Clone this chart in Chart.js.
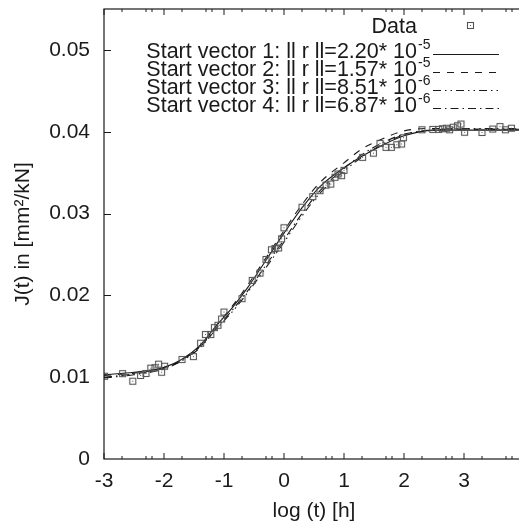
<!DOCTYPE html>
<html>
<head>
<meta charset="utf-8">
<script src="https://cdn.jsdelivr.net/npm/chart.js@4/dist/chart.umd.min.js"></script>
<style>
  html, body { margin: 0; padding: 0; background: #fff; overflow: hidden; }
  #wrap { width: 529px; height: 525px; }
</style>
</head>
<body>
<div id="wrap"><canvas id="creep" width="529" height="525"></canvas></div>
<script>
const dataX = [-2.99, -2.69, -2.52, -2.39, -2.30, -2.22, -2.15, -2.09, -2.04, -1.99,
  -1.70, -1.51, -1.39, -1.31, -1.22, -1.16, -1.10, -1.04, -1.00, -0.70,
  -0.53, -0.40, -0.30, -0.21, -0.15, -0.09, -0.04, 0.00, 0.30, 0.48,
  0.60, 0.70, 0.78, 0.85, 0.90, 0.96, 1.00, 1.31, 1.49, 1.60,
  1.70, 1.79, 1.88, 1.96, 1.99, 2.30, 2.48, 2.58, 2.64, 2.71,
  2.76, 2.82, 2.89, 2.95, 3.01, 3.30, 3.48, 3.60, 3.69, 3.79];
const dataY = [0.01012, 0.01043, 0.00951, 0.01021, 0.01045, 0.01110, 0.01116, 0.01159, 0.01061, 0.01134,
  0.01216, 0.01252, 0.01415, 0.01521, 0.01521, 0.01606, 0.01634, 0.01711, 0.01796, 0.01960,
  0.02183, 0.02272, 0.02439, 0.02557, 0.02573, 0.02579, 0.02691, 0.02826, 0.03077, 0.03207,
  0.03280, 0.03348, 0.03360, 0.03443, 0.03484, 0.03463, 0.03528, 0.03687, 0.03738, 0.03857,
  0.03809, 0.03809, 0.03841, 0.03850, 0.03927, 0.04024, 0.04028, 0.04028, 0.04037, 0.04043,
  0.04024, 0.04055, 0.04073, 0.04094, 0.03994, 0.03991, 0.04033, 0.04063, 0.04024, 0.04043];

// fitted curves
const fitX = [-3, -2.5, -2, -1.7, -1.4, -1.15, -0.85, -0.6, -0.3, 0, 0.3, 0.6, 1, 1.3, 1.6, 2, 2.5, 3, 3.5, 4];
const fit1 = [0.0103, 0.0106, 0.0112, 0.0122, 0.0139, 0.0161, 0.0186, 0.0210, 0.0243, 0.0276,
  0.0307, 0.0333, 0.0356, 0.0370, 0.0382, 0.0395, 0.0402, 0.0402, 0.0402, 0.0402];
const fit2 = [0.0102, 0.0105, 0.0111, 0.0121, 0.0138, 0.0161, 0.0188, 0.0213, 0.0246, 0.0279,
  0.0311, 0.0338, 0.0362, 0.0379, 0.0390, 0.0401, 0.0404, 0.0403, 0.0403, 0.0403];
const fit3 = [0.0099, 0.0103, 0.0110, 0.0120, 0.0136, 0.0157, 0.0181, 0.0204, 0.0234, 0.0265,
  0.0297, 0.0325, 0.0352, 0.0369, 0.0383, 0.0396, 0.0402, 0.0404, 0.0404, 0.0404];
const fit4 = [0.0100, 0.0104, 0.0111, 0.0121, 0.0137, 0.0158, 0.0183, 0.0206, 0.0237, 0.0268,
  0.0300, 0.0328, 0.0355, 0.0372, 0.0385, 0.0397, 0.0402, 0.0403, 0.0403, 0.0403];

const legendNames = ['Start vector 1: ll r ll=2.20* 10', 'Start vector 2: ll r ll=1.57* 10',
  'Start vector 3: ll r ll=8.51* 10', 'Start vector 4: ll r ll=6.87* 10'];
const legendExp = ['-5', '-5', '-6', '-6'];
const dashes = [[], [7, 7], [8, 4, 1.5, 4, 1.5, 4], [8, 4, 1.5, 4]];

const FONT = '"Liberation Sans", Arial, Helvetica, sans-serif';
const INK = '#1a1a1a';

// small square marker with a dot in the middle
const marker = document.createElement('canvas');
marker.width = 9; marker.height = 9;
(() => {
  const m = marker.getContext('2d');
  m.strokeStyle = '#555';
  m.lineWidth = 1.1;
  m.strokeRect(1.5, 1.5, 6, 6);
  m.fillStyle = '#555';
  m.fillRect(4, 4, 1, 1);
})();

const pts = (xs, ys) => xs.map((x, i) => ({ x: x, y: ys[i] }));

const lineSet = (label, ys, dash) => ({
  label: label,
  data: pts(fitX, ys),
  borderColor: INK,
  borderWidth: 1.1,
  borderDash: dash,
  pointRadius: 0,
  showLine: true,
  fill: false,
  cubicInterpolationMode: 'monotone'
});

// frame with inward ticks, gnuplot style
const framePlugin = {
  id: 'frame',
  afterDraw(chart) {
    const { ctx, chartArea: a, scales } = chart;
    ctx.save();
    ctx.strokeStyle = INK;
    ctx.lineWidth = 1.2;
    ctx.strokeRect(a.left, a.top, a.right - a.left, a.bottom - a.top);
    ctx.lineWidth = 1;
    ctx.beginPath();
    for (let k = -3; k <= 4; k++) {
      const px = scales.x.getPixelForValue(k);
      ctx.moveTo(px, a.bottom); ctx.lineTo(px, a.bottom - 6);
      ctx.moveTo(px, a.top); ctx.lineTo(px, a.top + 6);
      [0.3, 0.7, 0.8].forEach(f => {
        if (k + f > 4) return;
        const mx = scales.x.getPixelForValue(k + f);
        ctx.moveTo(mx, a.bottom); ctx.lineTo(mx, a.bottom - 3);
        ctx.moveTo(mx, a.top); ctx.lineTo(mx, a.top + 3);
      });
    }
    for (let v = 0.01; v < 0.055; v += 0.01) {
      const py = Math.round(scales.y.getPixelForValue(v)) + 0.5;
      ctx.moveTo(a.left, py); ctx.lineTo(a.left + 7, py);
    }
    ctx.stroke();
    ctx.restore();
  }
};

// legend inside the top right corner, text right aligned, sample on the right
const keyPlugin = {
  id: 'key',
  afterDraw(chart) {
    const ctx = chart.ctx;
    const textRight = 417, s0 = 433, s1 = 499;
    ctx.save();
    ctx.fillStyle = INK;
    ctx.textBaseline = 'middle';
    ctx.font = '21.5px ' + FONT;
    ctx.textAlign = 'right';
    ctx.fillText('Data', textRight, 27);
    ctx.drawImage(marker, 466, 21);
    const rows = [52, 70, 88, 106];
    rows.forEach((y, i) => {
      ctx.font = '21.5px ' + FONT;
      ctx.textAlign = 'right';
      ctx.fillText(legendNames[i], textRight, y);
      ctx.font = '14px ' + FONT;
      ctx.textAlign = 'left';
      ctx.fillText(legendExp[i], textRight + 1, y - 7);
      ctx.strokeStyle = INK;
      ctx.lineWidth = 1.1;
      ctx.setLineDash(dashes[i]);
      ctx.beginPath();
      ctx.moveTo(s0, y + 2.5);
      ctx.lineTo(s1, y + 2.5);
      ctx.stroke();
      ctx.setLineDash([]);
    });
    ctx.restore();
  }
};

new Chart(document.getElementById('creep'), {
  type: 'scatter',
  data: {
    datasets: [
      {
        label: 'Data',
        data: pts(dataX, dataY),
        pointStyle: marker,
        pointRadius: 4,
        showLine: false
      },
      lineSet(legendNames[0], fit1, dashes[0]),
      lineSet(legendNames[1], fit2, dashes[1]),
      lineSet(legendNames[2], fit3, dashes[2]),
      lineSet(legendNames[3], fit4, dashes[3])
    ]
  },
  options: {
    responsive: false,
    animation: false,
    devicePixelRatio: 1,
    layout: { padding: { top: 9, right: 0, left: 0, bottom: 0 } },
    plugins: {
      legend: { display: false },
      tooltip: { enabled: false }
    },
    scales: {
      x: {
        type: 'linear',
        min: -3,
        max: 4,
        grid: { display: false, drawTicks: false },
        border: { display: false },
        ticks: {
          stepSize: 1,
          padding: 10,
          color: INK,
          font: { family: FONT, size: 21 },
          maxRotation: 0,
          callback: v => (v >= 4 ? '' : String(v))
        },
        title: {
          display: true,
          text: 'log (t) [h]',
          color: INK,
          font: { family: FONT, size: 21 },
          padding: { top: 2, bottom: 1 }
        },
        afterFit: s => { s.height = 66; s.paddingLeft = 0; s.paddingRight = 0; }
      },
      y: {
        min: 0,
        max: 0.055,
        grid: { display: false, drawTicks: false },
        border: { display: false },
        ticks: {
          stepSize: 0.01,
          includeBounds: false,
          padding: 14,
          color: INK,
          font: { family: FONT, size: 21 },
          callback: v => (v === 0 ? '0' : v.toFixed(2))
        },
        title: {
          display: true,
          text: 'J(t) in [mm²/kN]',
          color: INK,
          font: { family: FONT, size: 21 },
          padding: { top: 11, bottom: 0 }
        },
        afterFit: s => { s.width = 104; s.paddingTop = 0; s.paddingBottom = 0; }
      }
    }
  },
  plugins: [framePlugin, keyPlugin]
});
</script>
</body>
</html>
